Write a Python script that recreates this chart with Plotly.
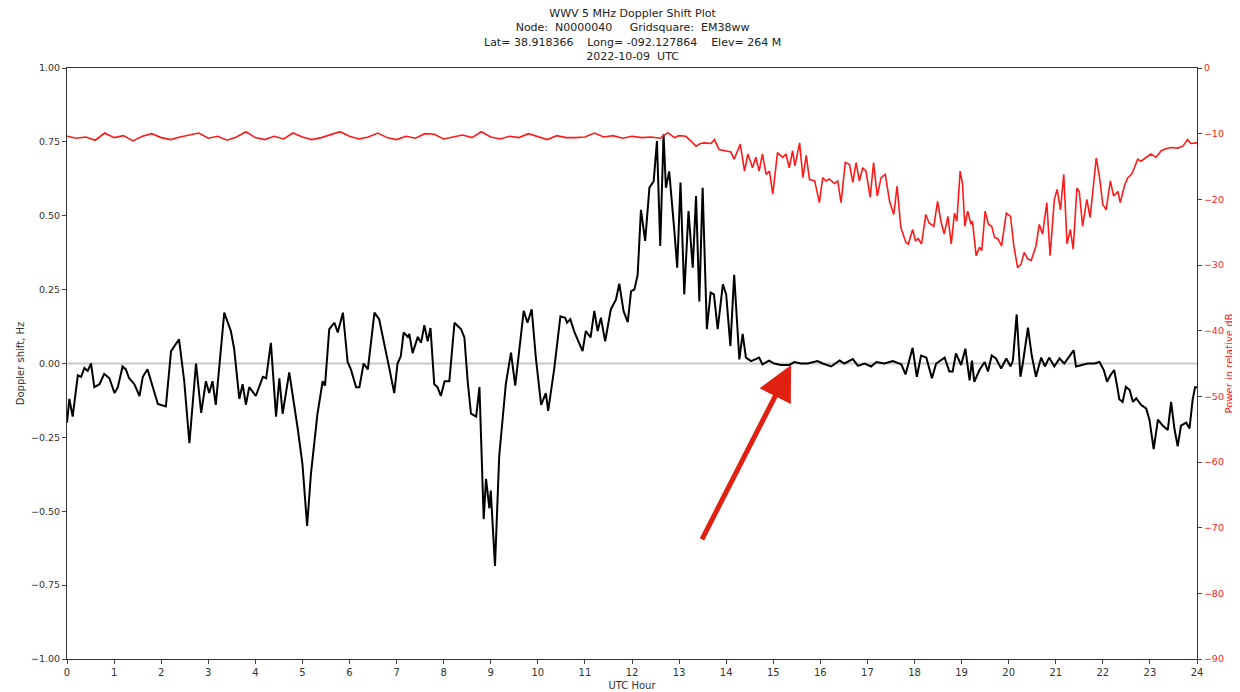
import plotly.graph_objects as go

# Doppler shift (black) – UTC hour / Hz
dop_hour = [0.00,0.05,0.12,0.23,0.30,0.37,0.44,0.51,0.58,0.69,0.79,0.90,1.01,1.08,1.18,1.25,1.32,1.43,1.54,1.61,1.71,1.78,1.93,2.10,2.21,2.38,2.49,2.60,2.74,2.85,2.95,3.02,3.09,3.16,3.34,3.48,3.55,3.66,3.73,3.80,3.87,4.01,4.16,4.23,4.33,4.44,4.51,4.58,4.72,4.90,5.00,5.10,5.18,5.32,5.43,5.48,5.57,5.68,5.75,5.86,5.96,6.03,6.14,6.21,6.30,6.39,6.53,6.63,6.74,6.85,6.95,7.02,7.09,7.15,7.24,7.27,7.34,7.45,7.52,7.59,7.66,7.72,7.80,7.87,7.94,8.02,8.12,8.23,8.37,8.44,8.51,8.58,8.69,8.76,8.85,8.90,8.97,9.00,9.09,9.18,9.32,9.43,9.52,9.61,9.70,9.78,9.87,9.96,10.07,10.17,10.22,10.35,10.48,10.58,10.62,10.69,10.78,10.95,11.02,11.12,11.20,11.27,11.34,11.43,11.55,11.66,11.73,11.82,11.91,11.98,12.05,12.12,12.19,12.28,12.37,12.46,12.53,12.60,12.67,12.72,12.79,12.90,12.96,13.03,13.11,13.20,13.29,13.36,13.43,13.50,13.59,13.67,13.74,13.82,13.93,14.00,14.09,14.17,14.28,14.35,14.42,14.53,14.70,14.77,14.91,15.02,15.16,15.34,15.45,15.59,15.73,15.94,16.05,16.23,16.41,16.51,16.69,16.80,16.94,17.08,17.19,17.36,17.54,17.72,17.81,17.96,18.05,18.14,18.25,18.37,18.46,18.64,18.74,18.81,18.88,18.99,19.08,19.17,19.22,19.27,19.38,19.49,19.56,19.64,19.73,19.84,19.95,20.04,20.09,20.17,20.25,20.30,20.41,20.49,20.58,20.69,20.77,20.86,20.97,21.08,21.18,21.27,21.38,21.43,21.54,21.68,21.82,21.93,22.02,22.09,22.16,22.24,22.30,22.35,22.42,22.49,22.57,22.64,22.71,22.81,22.92,22.99,23.08,23.17,23.27,23.38,23.45,23.52,23.59,23.66,23.77,23.84,23.91,23.96,24.00]
dop_hz = [-0.20,-0.12,-0.18,-0.04,-0.045,-0.015,-0.025,0.0,-0.08,-0.07,-0.035,-0.05,-0.10,-0.08,-0.01,-0.02,-0.05,-0.07,-0.11,-0.045,-0.02,-0.06,-0.137,-0.145,0.042,0.082,-0.06,-0.27,0.0,-0.167,-0.06,-0.10,-0.06,-0.14,0.172,0.11,0.05,-0.12,-0.07,-0.14,-0.08,-0.11,-0.045,-0.05,0.07,-0.18,-0.05,-0.17,-0.03,-0.22,-0.34,-0.55,-0.375,-0.17,-0.06,-0.075,0.116,0.138,0.105,0.172,0.005,-0.02,-0.08,-0.08,0.0,-0.02,0.172,0.15,0.07,-0.02,-0.10,0.0,0.025,0.105,0.09,0.10,0.035,0.09,0.07,0.13,0.075,0.12,-0.07,-0.08,-0.11,-0.06,-0.06,0.138,0.116,0.088,-0.06,-0.17,-0.18,-0.08,-0.527,-0.39,-0.49,-0.43,-0.685,-0.313,-0.07,0.037,-0.075,0.05,0.178,0.138,0.183,0.016,-0.14,-0.10,-0.16,-0.016,0.16,0.155,0.138,0.15,0.105,0.042,0.11,0.088,0.178,0.11,0.155,0.075,0.183,0.217,0.27,0.178,0.14,0.245,0.25,0.30,0.52,0.415,0.595,0.617,0.753,0.398,0.776,0.595,0.65,0.448,0.324,0.612,0.234,0.516,0.324,0.567,0.21,0.595,0.116,0.24,0.234,0.116,0.268,0.234,0.059,0.30,0.014,0.10,0.02,0.008,0.02,-0.003,0.01,0.0,-0.005,-0.005,0.005,0.0,0.0,0.008,0.0,-0.01,0.01,0.0,0.015,-0.008,0.0,-0.01,0.005,0.0,0.008,-0.003,-0.037,0.053,-0.045,0.027,0.02,-0.05,0.0,0.02,-0.027,-0.027,0.034,-0.005,0.05,-0.057,0.01,-0.062,-0.022,0.005,-0.027,0.027,0.017,-0.017,0.017,-0.01,0.01,0.166,-0.045,0.0,0.121,0.027,-0.045,0.02,-0.01,0.02,-0.01,0.017,0.0,0.02,0.045,-0.01,-0.005,0.0,0.0,0.005,-0.022,-0.062,-0.04,-0.022,-0.073,-0.121,-0.13,-0.079,-0.09,-0.13,-0.118,-0.14,-0.152,-0.19,-0.29,-0.19,-0.21,-0.225,-0.13,-0.22,-0.28,-0.21,-0.20,-0.22,-0.12,-0.08,-0.08]

# Power (red) – UTC hour / relative dB
pow_hour = [0.0,0.2,0.4,0.6,0.8,1.0,1.2,1.4,1.6,1.8,2.0,2.2,2.4,2.6,2.8,3.0,3.2,3.4,3.6,3.8,4.0,4.2,4.4,4.6,4.8,5.0,5.2,5.4,5.6,5.8,6.0,6.2,6.4,6.6,6.8,7.0,7.2,7.4,7.6,7.8,8.0,8.2,8.4,8.6,8.8,9.0,9.2,9.4,9.6,9.8,10.0,10.2,10.4,10.6,10.8,11.0,11.2,11.4,11.6,11.8,12.0,12.2,12.4,12.6,12.76,12.9,13.0,13.14,13.25,13.36,13.45,13.54,13.68,13.75,13.85,14.0,14.1,14.17,14.3,14.39,14.46,14.56,14.63,14.7,14.77,14.85,14.92,14.99,15.09,15.2,15.27,15.34,15.41,15.46,15.56,15.63,15.7,15.77,15.88,15.98,16.05,16.12,16.19,16.3,16.37,16.44,16.53,16.62,16.69,16.76,16.83,16.9,16.97,17.06,17.13,17.21,17.29,17.38,17.47,17.56,17.63,17.71,17.82,17.87,17.96,18.02,18.08,18.15,18.24,18.31,18.41,18.49,18.56,18.63,18.71,18.78,18.85,18.9,18.97,19.02,19.07,19.13,19.2,19.23,19.31,19.38,19.43,19.5,19.57,19.64,19.7,19.77,19.85,19.95,20.04,20.11,20.19,20.26,20.33,20.41,20.48,20.58,20.65,20.72,20.81,20.88,20.97,21.03,21.1,21.17,21.24,21.31,21.37,21.45,21.5,21.57,21.66,21.73,21.86,21.93,22.0,22.07,22.16,22.23,22.32,22.37,22.46,22.53,22.61,22.67,22.74,22.81,22.92,23.02,23.13,23.24,23.34,23.45,23.59,23.7,23.8,23.87,24.0]
pow_db = [-10.4,-10.7,-10.5,-11.0,-9.9,-10.6,-10.3,-11.1,-10.4,-10.0,-10.6,-10.9,-10.5,-10.2,-9.9,-10.7,-10.4,-11.0,-10.5,-9.7,-10.6,-10.9,-10.4,-10.8,-9.9,-10.5,-10.9,-10.6,-10.2,-9.7,-10.4,-10.8,-10.5,-9.9,-10.6,-10.9,-10.4,-10.7,-10.0,-10.1,-10.8,-10.5,-10.2,-10.6,-9.7,-10.5,-10.8,-10.4,-10.6,-10.0,-10.5,-10.9,-10.3,-10.6,-10.6,-10.5,-9.9,-10.5,-10.3,-10.7,-10.4,-10.6,-10.5,-10.7,-9.85,-10.6,-10.3,-10.4,-11.1,-11.9,-11.5,-11.4,-11.5,-10.9,-12.4,-12.6,-12.8,-13.9,-11.6,-15.7,-13.1,-15.2,-13.6,-15.7,-13.1,-16.2,-15.7,-19.2,-12.9,-13.6,-13.1,-15.2,-12.6,-14.9,-11.4,-16.7,-13.3,-17.0,-17.2,-20.5,-16.7,-17.2,-16.9,-17.6,-17.2,-20.5,-14.4,-14.7,-17.4,-14.4,-17.2,-15.2,-15.7,-19.7,-14.4,-19.5,-16.7,-16.2,-20.3,-22.3,-18.0,-24.3,-26.6,-26.8,-24.6,-26.3,-26.0,-26.8,-22.3,-23.6,-24.1,-20.3,-23.3,-25.3,-22.6,-26.8,-22.1,-23.3,-15.7,-17.7,-24.1,-21.8,-23.8,-23.3,-28.6,-27.3,-27.8,-21.8,-23.8,-24.1,-25.8,-26.0,-27.1,-22.1,-22.6,-27.1,-30.4,-29.9,-28.1,-29.1,-29.3,-27.1,-23.8,-25.3,-20.5,-28.6,-20.0,-18.5,-21.6,-16.2,-26.8,-24.6,-27.6,-18.3,-18.8,-24.1,-20.0,-22.8,-13.7,-16.7,-20.8,-21.6,-17.2,-19.5,-18.8,-20.5,-17.9,-16.7,-16.2,-15.2,-13.9,-14.2,-13.6,-13.1,-13.6,-12.6,-12.3,-12.1,-12.2,-11.9,-10.9,-11.5,-11.4]

x_ticks = list(range(0, 25))
left_ticks = [-1.0, -0.75, -0.5, -0.25, 0.0, 0.25, 0.5, 0.75, 1.0]
right_ticks = [-90, -80, -70, -60, -50, -40, -30, -20, -10, 0]

# arrow annotation (data coords)
arrow_tip = (15.38, -0.005)
arrow_tail = (13.47, -0.60)

NB = "\u00a0"
title_lines = [
    "WWV 5 MHz Doppler Shift Plot",
    "Node:" + NB*2 + "N0000040" + NB*5 + "Gridsquare:" + NB*2 + "EM38ww",
    "Lat=" + NB + "38.918366" + NB*4 + "Long=" + NB + "-092.127864" + NB*4 + "Elev=" + NB + "264 M",
    "2022-10-09" + NB*2 + "UTC",
]

FONT = "DejaVu Sans"
AX = "#333333"

fig = go.Figure()
fig.add_trace(go.Scatter(x=pow_hour, y=pow_db, mode="lines", yaxis="y2",
                         line=dict(color="#ff1a1a", width=1.6), showlegend=False))
fig.add_trace(go.Scatter(x=dop_hour, y=dop_hz, mode="lines", yaxis="y",
                         line=dict(color="black", width=2), showlegend=False))

fig.add_shape(type="line", xref="x", yref="y", x0=0, x1=24, y0=0, y1=0,
              line=dict(color="#c8c8c8", width=2), layer="below")

fig.add_annotation(x=arrow_tip[0], y=arrow_tip[1], ax=arrow_tail[0], ay=arrow_tail[1],
                   xref="x", yref="y", axref="x", ayref="y", text="",
                   showarrow=True, arrowhead=2, arrowsize=1.4, arrowwidth=5,
                   arrowcolor="#e02010")

fig.add_annotation(x=0.5, y=1.0, xref="paper", yref="paper", yanchor="bottom",
                   yshift=3, text="<br>".join(title_lines), showarrow=False,
                   font=dict(family=FONT, size=11, color="#222"), align="center")

# the page body adds ~7px offset; size/margins compensate
fig.update_layout(
    width=1233, height=685,
    margin=dict(l=59, r=44, t=60, b=34, autoexpand=False),
    paper_bgcolor="white", plot_bgcolor="white",
    font=dict(family=FONT, size=10, color=AX),
    xaxis=dict(range=[0, 24], tickvals=x_ticks, ticks="outside", ticklen=4,
               showline=True, linecolor=AX, linewidth=1, mirror=True,
               showgrid=False, zeroline=False, automargin=False,
               title=dict(text="UTC Hour", standoff=4, font=dict(size=10))),
    yaxis=dict(range=[-1, 1], tickvals=left_ticks, tickformat=".2f",
               ticks="outside", ticklen=4, showline=True, linecolor=AX,
               linewidth=1, showgrid=False, zeroline=False, automargin=False,
               tickfont=dict(size=9.5),
               title=dict(text="Doppler shift, Hz", standoff=4, font=dict(size=10))),
    yaxis2=dict(range=[-90, 0], tickvals=right_ticks, overlaying="y", side="right",
                ticks="outside", ticklen=4, showline=True, linecolor=AX,
                linewidth=1, showgrid=False, zeroline=False, automargin=False,
                tickfont=dict(color="#ff2020", size=9.5),
                title=dict(text="Power in relative dB", standoff=2,
                           font=dict(size=10, color="#ff2020"))),
)

fig.write_html("out.html")
